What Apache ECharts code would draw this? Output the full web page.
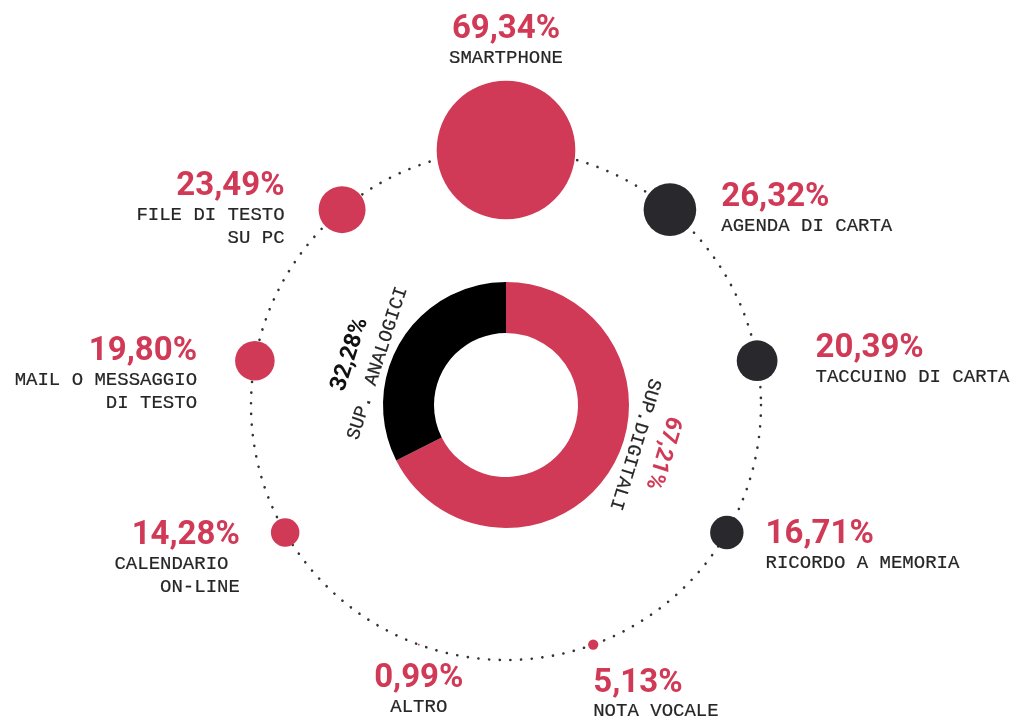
<!DOCTYPE html>
<html>
<head>
<meta charset="utf-8">
<title>Supporti per prendere appunti</title>
<script src="https://cdn.jsdelivr.net/npm/echarts@6/dist/echarts.min.js"></script>
<style>
  html, body { margin: 0; padding: 0; background: #ffffff; }
  #chart { width: 1016px; height: 726px; }
</style>
</head>
<body>
<div id="chart"></div>
<script>
// Supporti usati (% di risposte), in senso orario a partire dall'alto
const categories = [
  'SMARTPHONE',
  'AGENDA DI CARTA',
  'TACCUINO DI CARTA',
  'RICORDO A MEMORIA',
  'NOTA VOCALE',
  'ALTRO',
  'CALENDARIO \nON-LINE',
  'MAIL O MESSAGGIO\nDI TESTO',
  'FILE DI TESTO\nSU PC'
];
const values = [69.34, 26.32, 20.39, 16.71, 5.13, 0.99, 14.28, 19.80, 23.49];
const kinds = ['digitale', 'analogico', 'analogico', 'analogico', 'digitale', 'digitale', 'digitale', 'digitale', 'digitale'];

// Totale per tipo di supporto (anello centrale)
const supportNames = ['SUP.DIGITALI', 'SUP. ANALOGICI'];
const supportValues = [67.21, 32.28];
const supportKinds = ['digitale', 'analogico'];

// ---- stile ----
const RED = '#d13a57';
const DARK = '#29292d';
const BLACK = '#000000';
const TEXT = '#262626';
const MONO = '"Liberation Mono", "DejaVu Sans Mono", monospace';
const SANS = 'Roboto, "Noto Sans", sans-serif';

const CENTER = [506, 405];
const RING_RADIUS = 255;
const SLOT = 360 / categories.length;   // ampiezza di ogni settore angolare

const bubbleColor = { digitale: RED, analogico: DARK };
const ringColor = { digitale: RED, analogico: BLACK };
const ringLabelColor = { digitale: RED, analogico: '#111111' };

// testo monospaziato, appena ispessito
const monoStyle = { fontFamily: MONO, fontSize: 19, color: TEXT, textBorderColor: TEXT, textBorderWidth: 0.2 };

// posizione delle etichette attorno a ogni bolla
const labelPlacement = [
  { position: 'top', distance: 11 },
  { position: 'right', distance: 25 },
  { position: 'right', distance: 38 },
  { position: 'right', distance: 22, offset: [0, 14] },
  { position: 'bottom', distance: 17, align: 'left' },
  { position: 'bottom', distance: 17 },
  { position: 'left', distance: 31, offset: [0, 26] },
  { position: 'left', distance: 38, offset: [0, 14] },
  { position: 'left', distance: 34 }
];

// angolo (gradi, orario dall'alto) e raggio delle scritte dell'anello
const ringLabelAngle = [107, -72];
const ringLabelRadius = 152;

const pct = v => v.toFixed(2).replace('.', ',') + '%';

const chart = echarts.init(document.getElementById('chart'), null, { renderer: 'canvas' });

const bubbleData = values.map((v, i) => ({
  value: [1, i],
  itemStyle: { color: bubbleColor[kinds[i]], opacity: 1 },
  label: Object.assign({ show: true }, labelPlacement[i])
}));

const ringData = supportValues.map((v, i) => ({
  name: supportNames[i],
  value: v,
  itemStyle: { color: ringColor[supportKinds[i]] },
  label: { rich: { p: { color: ringLabelColor[supportKinds[i]] } } }
}));

chart.setOption({
  backgroundColor: '#ffffff',
  animation: false,
  polar: { center: CENTER, radius: RING_RADIUS },
  angleAxis: {
    type: 'category',
    data: categories,
    // ogni bolla sta al centro del proprio settore: la prima in alto
    startAngle: 90 + SLOT / 2,
    clockwise: true,
    boundaryGap: true,
    axisLine: {
      show: true,
      lineStyle: { color: '#333336', width: 2.6, type: [0.1, 10.6], cap: 'round' }
    },
    axisTick: { show: false },
    axisLabel: { show: false },
    splitLine: { show: false }
  },
  radiusAxis: {
    type: 'value', min: 0, max: 1, show: false,
    axisLine: { show: false }, axisTick: { show: false },
    axisLabel: { show: false }, splitLine: { show: false }
  },
  series: [
    {
      type: 'scatter',
      coordinateSystem: 'polar',
      symbol: 'circle',
      symbolSize: (val, params) => values[params.dataIndex] * 2,
      silent: true,
      z: 3,
      itemStyle: { opacity: 1 },
      data: bubbleData,
      label: {
        show: true,
        formatter: params => {
          const i = params.dataIndex;
          const lines = categories[i].split('\n').map(l => '{n|' + l + '}');
          return '{p|' + pct(values[i]) + '}\n' + lines.join('\n');
        },
        rich: {
          p: { fontFamily: SANS, fontWeight: 700, fontSize: 33, lineHeight: 33, color: RED },
          n: Object.assign({ lineHeight: 23 }, monoStyle)
        }
      }
    },
    {
      type: 'pie',
      center: CENTER,
      radius: [72, 123],
      startAngle: 90,
      clockwise: true,
      avoidLabelOverlap: false,
      silent: true,
      emphasis: { disabled: true },
      data: ringData,
      label: {
        show: true,
        position: 'outside',
        formatter: params => '{p|' + pct(supportValues[params.dataIndex]) + '}\n{n|' + supportNames[params.dataIndex] + '}',
        rich: {
          p: { fontFamily: SANS, fontWeight: 700, fontSize: 23, lineHeight: 34, align: 'center' },
          n: Object.assign({ lineHeight: 24, align: 'center' }, monoStyle)
        }
      },
      labelLine: { show: false },
      labelLayout: params => {
        const deg = ringLabelAngle[params.dataIndex];
        const a = deg * Math.PI / 180;
        return {
          x: CENTER[0] + ringLabelRadius * Math.sin(a),
          y: CENTER[1] - ringLabelRadius * Math.cos(a),
          rotate: -deg,
          align: 'center',
          verticalAlign: 'middle'
        };
      }
    }
  ]
});
</script>
</body>
</html>
